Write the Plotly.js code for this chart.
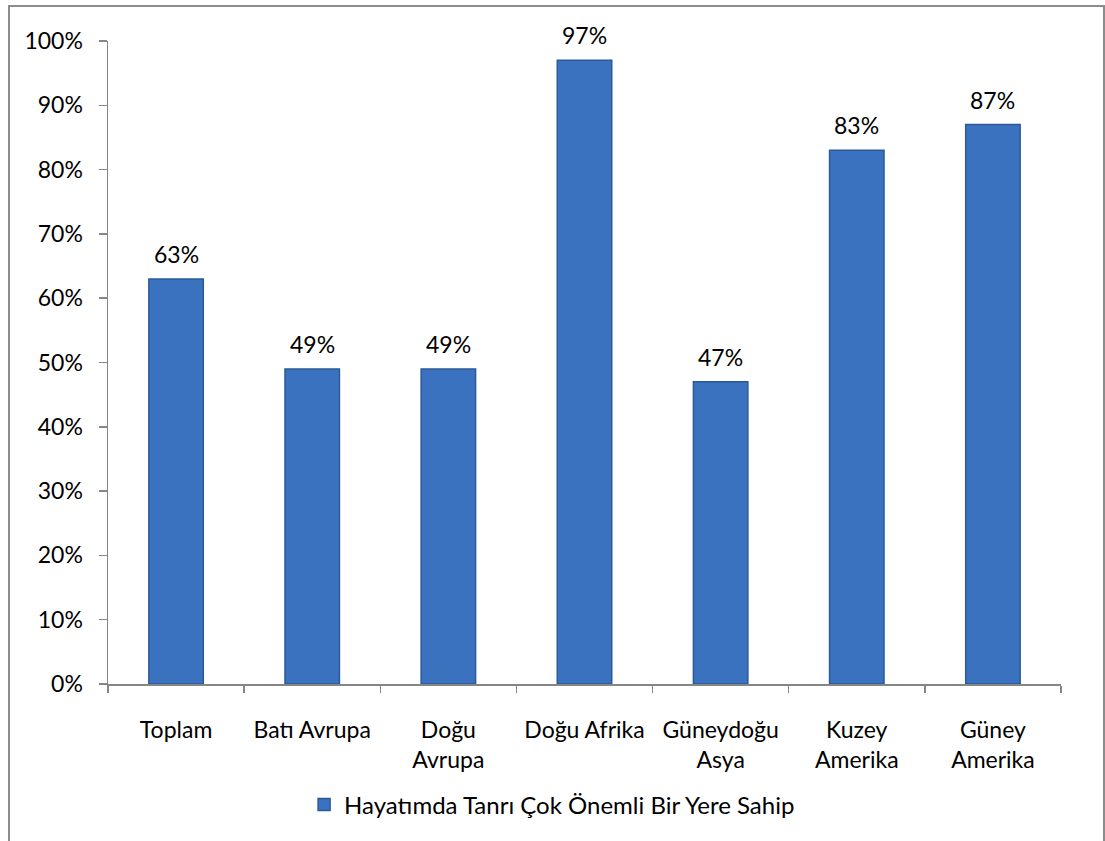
<!DOCTYPE html>
<html>
<head>
<meta charset="utf-8">
<script src="https://cdn.plot.ly/plotly-3.0.1.min.js"></script>
<style>
  html, body { margin: 0; padding: 0; background: #ffffff; }
  #wrap { position: relative; width: 1105px; height: 841px; overflow: hidden; }
  #frame { position: absolute; left: 8px; top: 5px; width: 1097px; height: 860px; border: 2px solid #8c8c8c; box-sizing: border-box; pointer-events: none; }
  #chart { position: absolute; left: 0; top: 0; width: 1105px; height: 841px; }
</style>
</head>
<body>
<div id="wrap">
  <div id="chart"></div>
  <div id="frame"></div>
</div>
<script>
const categories = ["Toplam", "Batı Avrupa", "Doğu<br>Avrupa", "Doğu Afrika", "Güneydoğu<br>Asya", "Kuzey<br>Amerika", "Güney<br>Amerika"];
const values = [0.63, 0.49, 0.49, 0.97, 0.47, 0.83, 0.87];
const seriesName = "Hayatımda Tanrı Çok Önemli Bir Yere Sahip";
const yTickValues = [0, 0.1, 0.2, 0.3, 0.4, 0.5, 0.6, 0.7, 0.8, 0.9, 1.0];

const fontFamily = "Lato, 'Open Sans', 'Liberation Sans', sans-serif";
const fontSize = 23;

const trace = {
  type: "bar",
  x: categories,
  y: values,
  name: seriesName,
  marker: { color: "#3a72bf", line: { color: "#2b5a96", width: 1.5 } },
  hoverinfo: "none",
  showlegend: true
};

const labelAnnotations = categories.map((c, i) => ({
  x: c,
  y: values[i],
  xref: "x",
  yref: "y",
  text: Math.round(values[i] * 100) + "%",
  showarrow: false,
  yanchor: "bottom",
  yshift: 9,
  font: { family: fontFamily, size: fontSize, color: "#000000" }
}));

const layout = {
  width: 1105,
  height: 841,
  margin: { l: 108, r: 44, t: 41, b: 157 },
  paper_bgcolor: "rgba(0,0,0,0)",
  plot_bgcolor: "rgba(0,0,0,0)",
  font: { family: fontFamily, size: fontSize, color: "#000000" },
  bargap: 0.6,
  showlegend: true,
  annotations: labelAnnotations,
  legend: {
    orientation: "h",
    x: 0.466, xanchor: "center",
    y: -0.188, yanchor: "middle",
    font: { family: fontFamily, size: 24, color: "#000000" },
    itemwidth: 30
  },
  xaxis: {
    type: "category",
    tickson: "boundaries",
    ticks: "outside",
    ticklen: 7,
    tickcolor: "#868686",
    tickwidth: 1.5,
    showline: true,
    linecolor: "#868686",
    linewidth: 1.5,
    showgrid: false,
    zeroline: false,
    ticklabelstandoff: 25,
    tickfont: { family: fontFamily, size: fontSize, color: "#000000" },
    automargin: false
  },
  yaxis: {
    range: [0, 1],
    tickvals: yTickValues,
    tickformat: ".0%",
    ticks: "outside",
    ticklen: 8,
    tickcolor: "#868686",
    tickwidth: 1.5,
    showline: true,
    linecolor: "#868686",
    linewidth: 1.5,
    showgrid: false,
    zeroline: false,
    ticklabelstandoff: 11,
    tickfont: { family: fontFamily, size: fontSize, color: "#000000" },
    automargin: false
  }
};

Plotly.newPlot("chart", [trace], layout, { displayModeBar: false, staticPlot: true });
</script>
</body>
</html>
